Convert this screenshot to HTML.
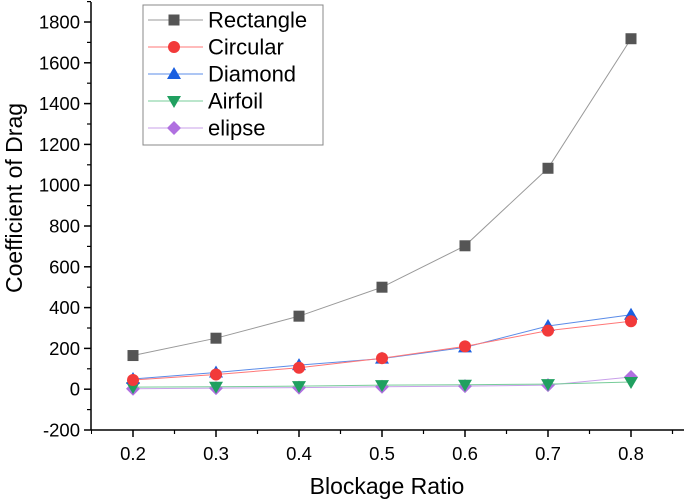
<!DOCTYPE html>
<html><head><meta charset="utf-8"><style>body{margin:0;background:#fff}svg{display:block;font-family:"Liberation Sans",sans-serif}</style></head>
<body>
<svg id="c" width="685" height="501"></svg>
<script>
const categories=[0.2,0.3,0.4,0.5,0.6,0.7,0.8];
const rectangle=[165,250,358,500,703,1083,1718];
const circular=[45,72,105,152,210,287,333];
const diamond=[50,82,118,150,205,310,365];
const airfoil=[10,12,15,20,22,25,35];
const elipse=[2,5,8,12,15,20,60];
const yTicks=[-200,0,200,400,600,800,1000,1200,1400,1600,1800];
const NS="http://www.w3.org/2000/svg",svg=document.getElementById('c');
const X=v=>133+(v-0.2)/0.6*498, Y=v=>389.2-v*0.204;
function el(t,a,p){const e=document.createElementNS(NS,t);for(const k in a)e.setAttribute(k,a[k]);(p||svg).appendChild(e);return e;}
const ax=el('g',{});


el('line',{x1:91,y1:2,x2:91,y2:430,stroke:'#000','stroke-width':1.5},ax);
el('line',{x1:91,y1:430,x2:684,y2:430,stroke:'#000','stroke-width':1.5},ax);
yTicks.forEach(v=>{el('line',{x1:84,x2:91,y1:Y(v),y2:Y(v),stroke:'#000','stroke-width':1.5},ax);
 el('line',{x1:87,x2:91,y1:Y(v+100),y2:Y(v+100),stroke:'#000','stroke-width':1.2},ax);
 const t=el('text',{x:80,y:Y(v)+6.5,'text-anchor':'end','font-size':18.5},ax);t.textContent=v;
 });
categories.forEach(v=>{el('line',{x1:X(v),x2:X(v),y1:430,y2:437,stroke:'#000','stroke-width':1.5},ax);
 el('line',{x1:X(v+0.05),x2:X(v+0.05),y1:430,y2:434,stroke:'#000','stroke-width':1.2},ax);
 const t=el('text',{x:X(v),y:460,'text-anchor':'middle','font-size':18.5},ax);t.textContent=v.toFixed(1);
 });
el('line',{x1:X(0.15),x2:X(0.15),y1:430,y2:434,stroke:'#000'},ax);
let t=el('text',{x:387,y:494,'text-anchor':'middle','font-size':23});t.textContent='Blockage Ratio';

t=el('text',{x:0,y:0,'text-anchor':'middle','font-size':23,transform:'translate(22,198) rotate(-90)'});t.textContent='Coefficient of Drag';

function marker(shape,x,y,c,g){
 if(shape=='sq')return el('rect',{x:x-5.5,y:y-5.5,width:11,height:11,fill:c},g);
 if(shape=='ci')return el('circle',{cx:x,cy:y,r:6,fill:c},g);
 if(shape=='up')return el('path',{d:`M${x} ${y-7}L${x+7} ${y+5}L${x-7} ${y+5}Z`,fill:c},g);
 if(shape=='dn')return el('path',{d:`M${x} ${y+7}L${x+7} ${y-5}L${x-7} ${y-5}Z`,fill:c},g);
 return el('path',{d:`M${x} ${y-7}L${x+7} ${y}L${x} ${y+7}L${x-7} ${y}Z`,fill:c},g);}
const series=[['Rectangle',rectangle,'#555','#999','sq'],['Circular',circular,'#f23a3a','#f77','ci'],['Diamond',diamond,'#1a5fe0','#5b8ce8','up'],['Airfoil',airfoil,'#20a060','#7c9','dn'],['elipse',elipse,'#b070e0','#c9a0ea','di']];
series.slice().reverse().forEach(([n,d,c,lc,s])=>{const g=el('g',{});
 
 el('polyline',{points:d.map((v,i)=>X(categories[i])+','+Y(v)).join(' '),fill:'none',stroke:lc,'stroke-width':1},g);
 d.forEach((v,i)=>{const m=marker(s,X(categories[i]),Y(v),c,g);});});
const lg=el('g',{});

el('rect',{x:143,y:5,width:180,height:140,fill:'#fff',stroke:'#888'},lg);
series.forEach(([n,d,c,lc,s],i)=>{const y=20+i*27;const g=el('g',{},lg);
 
 el('line',{x1:148,x2:203,y1:y,y2:y,stroke:lc},g);marker(s,174,y,c,g);
 const t=el('text',{x:208,y:y+7.5,'font-size':22},g);t.textContent=n;});
</script>
</body></html>
